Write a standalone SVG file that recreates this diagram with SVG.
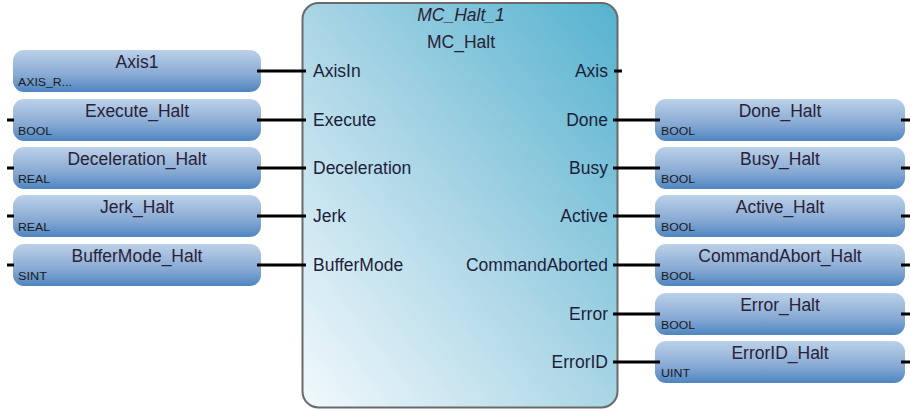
<svg xmlns="http://www.w3.org/2000/svg" width="910" height="411" viewBox="0 0 910 411">
<defs>
<linearGradient id="blk" x1="0" y1="1" x2="1" y2="0">
<stop offset="0" stop-color="#f2f9fc"/>
<stop offset="0.5" stop-color="#a9d5e5"/>
<stop offset="1" stop-color="#55b2cf"/>
</linearGradient>
<linearGradient id="var" x1="0" y1="0" x2="0" y2="1">
<stop offset="0" stop-color="#bcd1e9"/>
<stop offset="0.6" stop-color="#87a9d3"/>
<stop offset="1" stop-color="#4e85c0"/>
</linearGradient>
</defs>
<style>
.box{fill:url(#var);}
.nm{font-family:"Liberation Sans",Arial,sans-serif;font-size:17.5px;fill:#2a2236;text-anchor:middle;}
.ty{font-family:"Liberation Sans",Arial,sans-serif;font-size:10px;fill:#1a1a1a;}
.pl{font-family:"Liberation Sans",Arial,sans-serif;font-size:17.5px;fill:#1e1e3a;}
.pr{font-family:"Liberation Sans",Arial,sans-serif;font-size:17.5px;fill:#1e1e3a;text-anchor:end;}
.w{stroke:#000;stroke-width:3;fill:none;}
</style>
<g id="MC_Halt_1">
<rect x="302.5" y="3" width="315" height="404.5" rx="16" fill="url(#blk)" stroke="#6a6a6a" stroke-width="2"/>
<text x="461" y="21" class="nm" font-style="italic">MC_Halt_1</text>
<text x="461" y="48" class="nm">MC_Halt</text>
<text x="313" y="77" class="pl">AxisIn</text>
<text x="313" y="126" class="pl">Execute</text>
<text x="313" y="174" class="pl">Deceleration</text>
<text x="313" y="222" class="pl">Jerk</text>
<text x="313" y="271" class="pl">BufferMode</text>
<text x="608" y="77" class="pr">Axis</text>
<text x="608" y="126" class="pr">Done</text>
<text x="608" y="174" class="pr">Busy</text>
<text x="608" y="222" class="pr">Active</text>
<text x="608" y="271" class="pr">CommandAborted</text>
<text x="608" y="320" class="pr">Error</text>
<text x="608" y="368" class="pr">ErrorID</text>
</g>
<g id="Axis1"><rect class="box" x="13" y="50" width="248" height="42" rx="11"/><text class="nm" x="137" y="68">Axis1</text><text class="ty" x="18" y="86" textLength="54" lengthAdjust="spacingAndGlyphs">AXIS_R...</text></g>
<g id="Execute_Halt"><rect class="box" x="13" y="99" width="248" height="42" rx="11"/><text class="nm" x="137" y="117">Execute_Halt</text><text class="ty" x="18" y="135" textLength="34" lengthAdjust="spacingAndGlyphs">BOOL</text></g>
<g id="Deceleration_Halt"><rect class="box" x="13" y="147" width="248" height="42" rx="11"/><text class="nm" x="137" y="165">Deceleration_Halt</text><text class="ty" x="18" y="183" textLength="32" lengthAdjust="spacingAndGlyphs">REAL</text></g>
<g id="Jerk_Halt"><rect class="box" x="13" y="195" width="248" height="42" rx="11"/><text class="nm" x="137" y="213">Jerk_Halt</text><text class="ty" x="18" y="231" textLength="32" lengthAdjust="spacingAndGlyphs">REAL</text></g>
<g id="BufferMode_Halt"><rect class="box" x="13" y="244" width="248" height="42" rx="11"/><text class="nm" x="137" y="262">BufferMode_Halt</text><text class="ty" x="18" y="280" textLength="29" lengthAdjust="spacingAndGlyphs">SINT</text></g>
<g id="Done_Halt"><rect class="box" x="655" y="99" width="250" height="42" rx="11"/><text class="nm" x="780" y="117">Done_Halt</text><text class="ty" x="661" y="135" textLength="34" lengthAdjust="spacingAndGlyphs">BOOL</text></g>
<g id="Busy_Halt"><rect class="box" x="655" y="147" width="250" height="42" rx="11"/><text class="nm" x="780" y="165">Busy_Halt</text><text class="ty" x="661" y="183" textLength="34" lengthAdjust="spacingAndGlyphs">BOOL</text></g>
<g id="Active_Halt"><rect class="box" x="655" y="195" width="250" height="42" rx="11"/><text class="nm" x="780" y="213">Active_Halt</text><text class="ty" x="661" y="231" textLength="34" lengthAdjust="spacingAndGlyphs">BOOL</text></g>
<g id="CommandAbort_Halt"><rect class="box" x="655" y="244" width="250" height="42" rx="11"/><text class="nm" x="780" y="262">CommandAbort_Halt</text><text class="ty" x="661" y="280" textLength="34" lengthAdjust="spacingAndGlyphs">BOOL</text></g>
<g id="Error_Halt"><rect class="box" x="655" y="293" width="250" height="42" rx="11"/><text class="nm" x="780" y="311">Error_Halt</text><text class="ty" x="661" y="329" textLength="34" lengthAdjust="spacingAndGlyphs">BOOL</text></g>
<g id="ErrorID_Halt"><rect class="box" x="655" y="341" width="250" height="42" rx="11"/><text class="nm" x="780" y="359">ErrorID_Halt</text><text class="ty" x="661" y="377" textLength="29" lengthAdjust="spacingAndGlyphs">UINT</text></g>
<g id="connectors">
<path class="w" d="M257 71H306M257 120H306M257 168H306M257 216H306M257 265H306"/>
<path class="w" d="M613 120H660M613 168H660M613 216H660M613 265H660M613 314H660M613 362H660"/>
<path class="w" d="M614 71H622"/>
<path class="w" d="M7 120H14M7 168H14M7 216H14M7 265H14"/>
<path class="w" d="M901 120H910M901 168H910M901 216H910M901 265H910M901 314H910M901 362H910"/>
</g>
</svg>
